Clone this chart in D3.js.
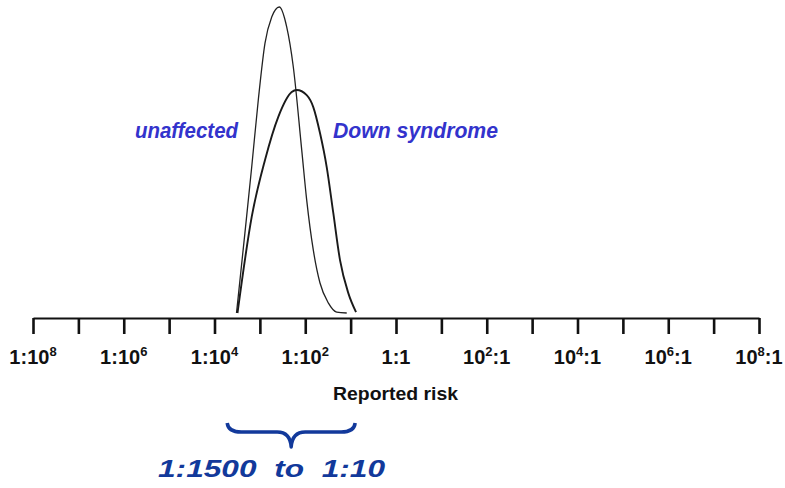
<!DOCTYPE html>
<html>
<head>
<meta charset="utf-8">
<script src="https://cdn.jsdelivr.net/npm/d3@7"></script>
<style>
  body { margin: 0; background: #fff; }
  text { font-family: "Liberation Sans", Arial, sans-serif; }
</style>
</head>
<body>
<div id="chart"></div>
<script>
"use strict";

// x values are log10 of the reported risk (odds), -8 = 1:10^8, 8 = 10^8:1
var tickValues = [-8, -7, -6, -5, -4, -3, -2, -1, 0, 1, 2, 3, 4, 5, 6, 7, 8];
var majorTicks = [-8, -6, -4, -2, 0, 2, 4, 6, 8];
var labelBase = ["1:10", "1:10", "1:10", "1:10", "1:1", "10", "10", "10", "10"];
var labelSup  = ["8", "6", "4", "2", "", "2", "4", "6", "8"];
var labelTail = ["", "", "", "", "", ":1", ":1", ":1", ":1"];

// curves (log10 risk, relative height)
var unaffectedX = [-3.515, -3.33, -3.18, -3.035, -2.887, -2.739, -2.572, -2.409, -2.263, -2.078, -1.968, -1.823, -1.675, -1.492, -1.307, -1.086];
var unaffectedY = [0, 0.261, 0.477, 0.696, 0.882, 0.967, 1.0, 0.935, 0.804, 0.533, 0.369, 0.206, 0.098, 0.033, 0.003, 0];
var downX = [-3.493, -3.18, -2.887, -2.594, -2.299, -2.188, -1.968, -1.823, -1.675, -1.527, -1.382, -1.234, -1.051, -0.881];
var downY = [0, 0.314, 0.5, 0.641, 0.722, 0.729, 0.712, 0.673, 0.588, 0.477, 0.327, 0.173, 0.065, 0.003];

// bracket under the axis: 1:1500 to 1:10 (log10 units)
var braceRange = [-3.72, -0.90];

var width = 785, height = 488;

var svg = d3.select("#chart").append("svg")
  .attr("width", width)
  .attr("height", height);

var x = d3.scaleLinear().domain([-8, 8]).range([33, 759]);
var y = d3.scaleLinear().domain([0, 1]).range([313, 7]);
var axisY = 318;

// axis
var xAxis = d3.axisBottom(x)
  .tickValues(tickValues)
  .tickSize(16)
  .tickSizeOuter(0)
  .tickFormat("");

var gx = svg.append("g")
  .attr("transform", "translate(0," + axisY + ")")
  .call(xAxis);
gx.select(".domain").attr("stroke", "#111").attr("stroke-width", 2.2);
gx.selectAll(".tick line").attr("stroke", "#111").attr("stroke-width", 2.6);

// tick labels with superscripts
majorTicks.forEach(function(v, i) {
  var t = svg.append("text")
    .attr("x", x(v))
    .attr("y", 364)
    .attr("text-anchor", "middle")
    .style("font-size", "20px")
    .style("font-weight", "bold")
    .attr("fill", "#111");
  t.append("tspan").text(labelBase[i]);
  if (labelSup[i]) {
    t.append("tspan").attr("dy", -8).style("font-size", "13px").text(labelSup[i]);
    if (labelTail[i]) t.append("tspan").attr("dy", 8).text(labelTail[i]);
  } else if (labelTail[i]) {
    t.append("tspan").text(labelTail[i]);
  }
});

svg.append("text")
  .attr("x", 333).attr("y", 400)
  .attr("textLength", 125).attr("lengthAdjust", "spacingAndGlyphs")
  .style("font-size", "18.5px")
  .style("font-weight", "bold")
  .attr("fill", "#111")
  .text("Reported risk");

// curves
var line = d3.line()
  .x(function(d) { return x(d[0]); })
  .y(function(d) { return y(d[1]); })
  .curve(d3.curveMonotoneX);

svg.append("path")
  .datum(d3.zip(unaffectedX, unaffectedY))
  .attr("d", line)
  .attr("fill", "none")
  .attr("stroke", "#222")
  .attr("stroke-width", 1.3);

svg.append("path")
  .datum(d3.zip(downX, downY))
  .attr("d", line)
  .attr("fill", "none")
  .attr("stroke", "#1a1a1a")
  .attr("stroke-width", 1.9);

// series labels
svg.append("text")
  .attr("x", 135).attr("y", 138)
  .attr("textLength", 103).attr("lengthAdjust", "spacingAndGlyphs")
  .style("font-size", "22px").style("font-weight", "bold").style("font-style", "italic")
  .attr("fill", "#3333cc")
  .text("unaffected");

svg.append("text")
  .attr("x", 333).attr("y", 138)
  .attr("textLength", 165).attr("lengthAdjust", "spacingAndGlyphs")
  .style("font-size", "22px").style("font-weight", "bold").style("font-style", "italic")
  .attr("fill", "#3333cc")
  .text("Down syndrome");

// brace
var x0 = x(braceRange[0]), x1 = x(braceRange[1]), xm = (x0 + x1) / 2;
var p = d3.path();
p.moveTo(x0, 423);
p.quadraticCurveTo(x0 + 1, 432, x0 + 14, 432);
p.lineTo(xm - 14, 432);
p.quadraticCurveTo(xm - 1, 432, xm, 447);
p.quadraticCurveTo(xm + 1, 432, xm + 14, 432);
p.lineTo(x1 - 14, 432);
p.quadraticCurveTo(x1 - 1, 432, x1, 423);
svg.append("path")
  .attr("d", p.toString())
  .attr("fill", "none")
  .attr("stroke", "#12399b")
  .attr("stroke-width", 3.5)
  .attr("stroke-linejoin", "round");

svg.append("text")
  .attr("x", 158).attr("y", 477)
  .attr("textLength", 227).attr("lengthAdjust", "spacingAndGlyphs")
  .attr("xml:space", "preserve")
  .style("white-space", "pre")
  .style("font-size", "24px").style("font-weight", "bold").style("font-style", "italic")
  .attr("fill", "#12399b")
  .text("1:1500  to  1:10");
</script>
</body>
</html>
